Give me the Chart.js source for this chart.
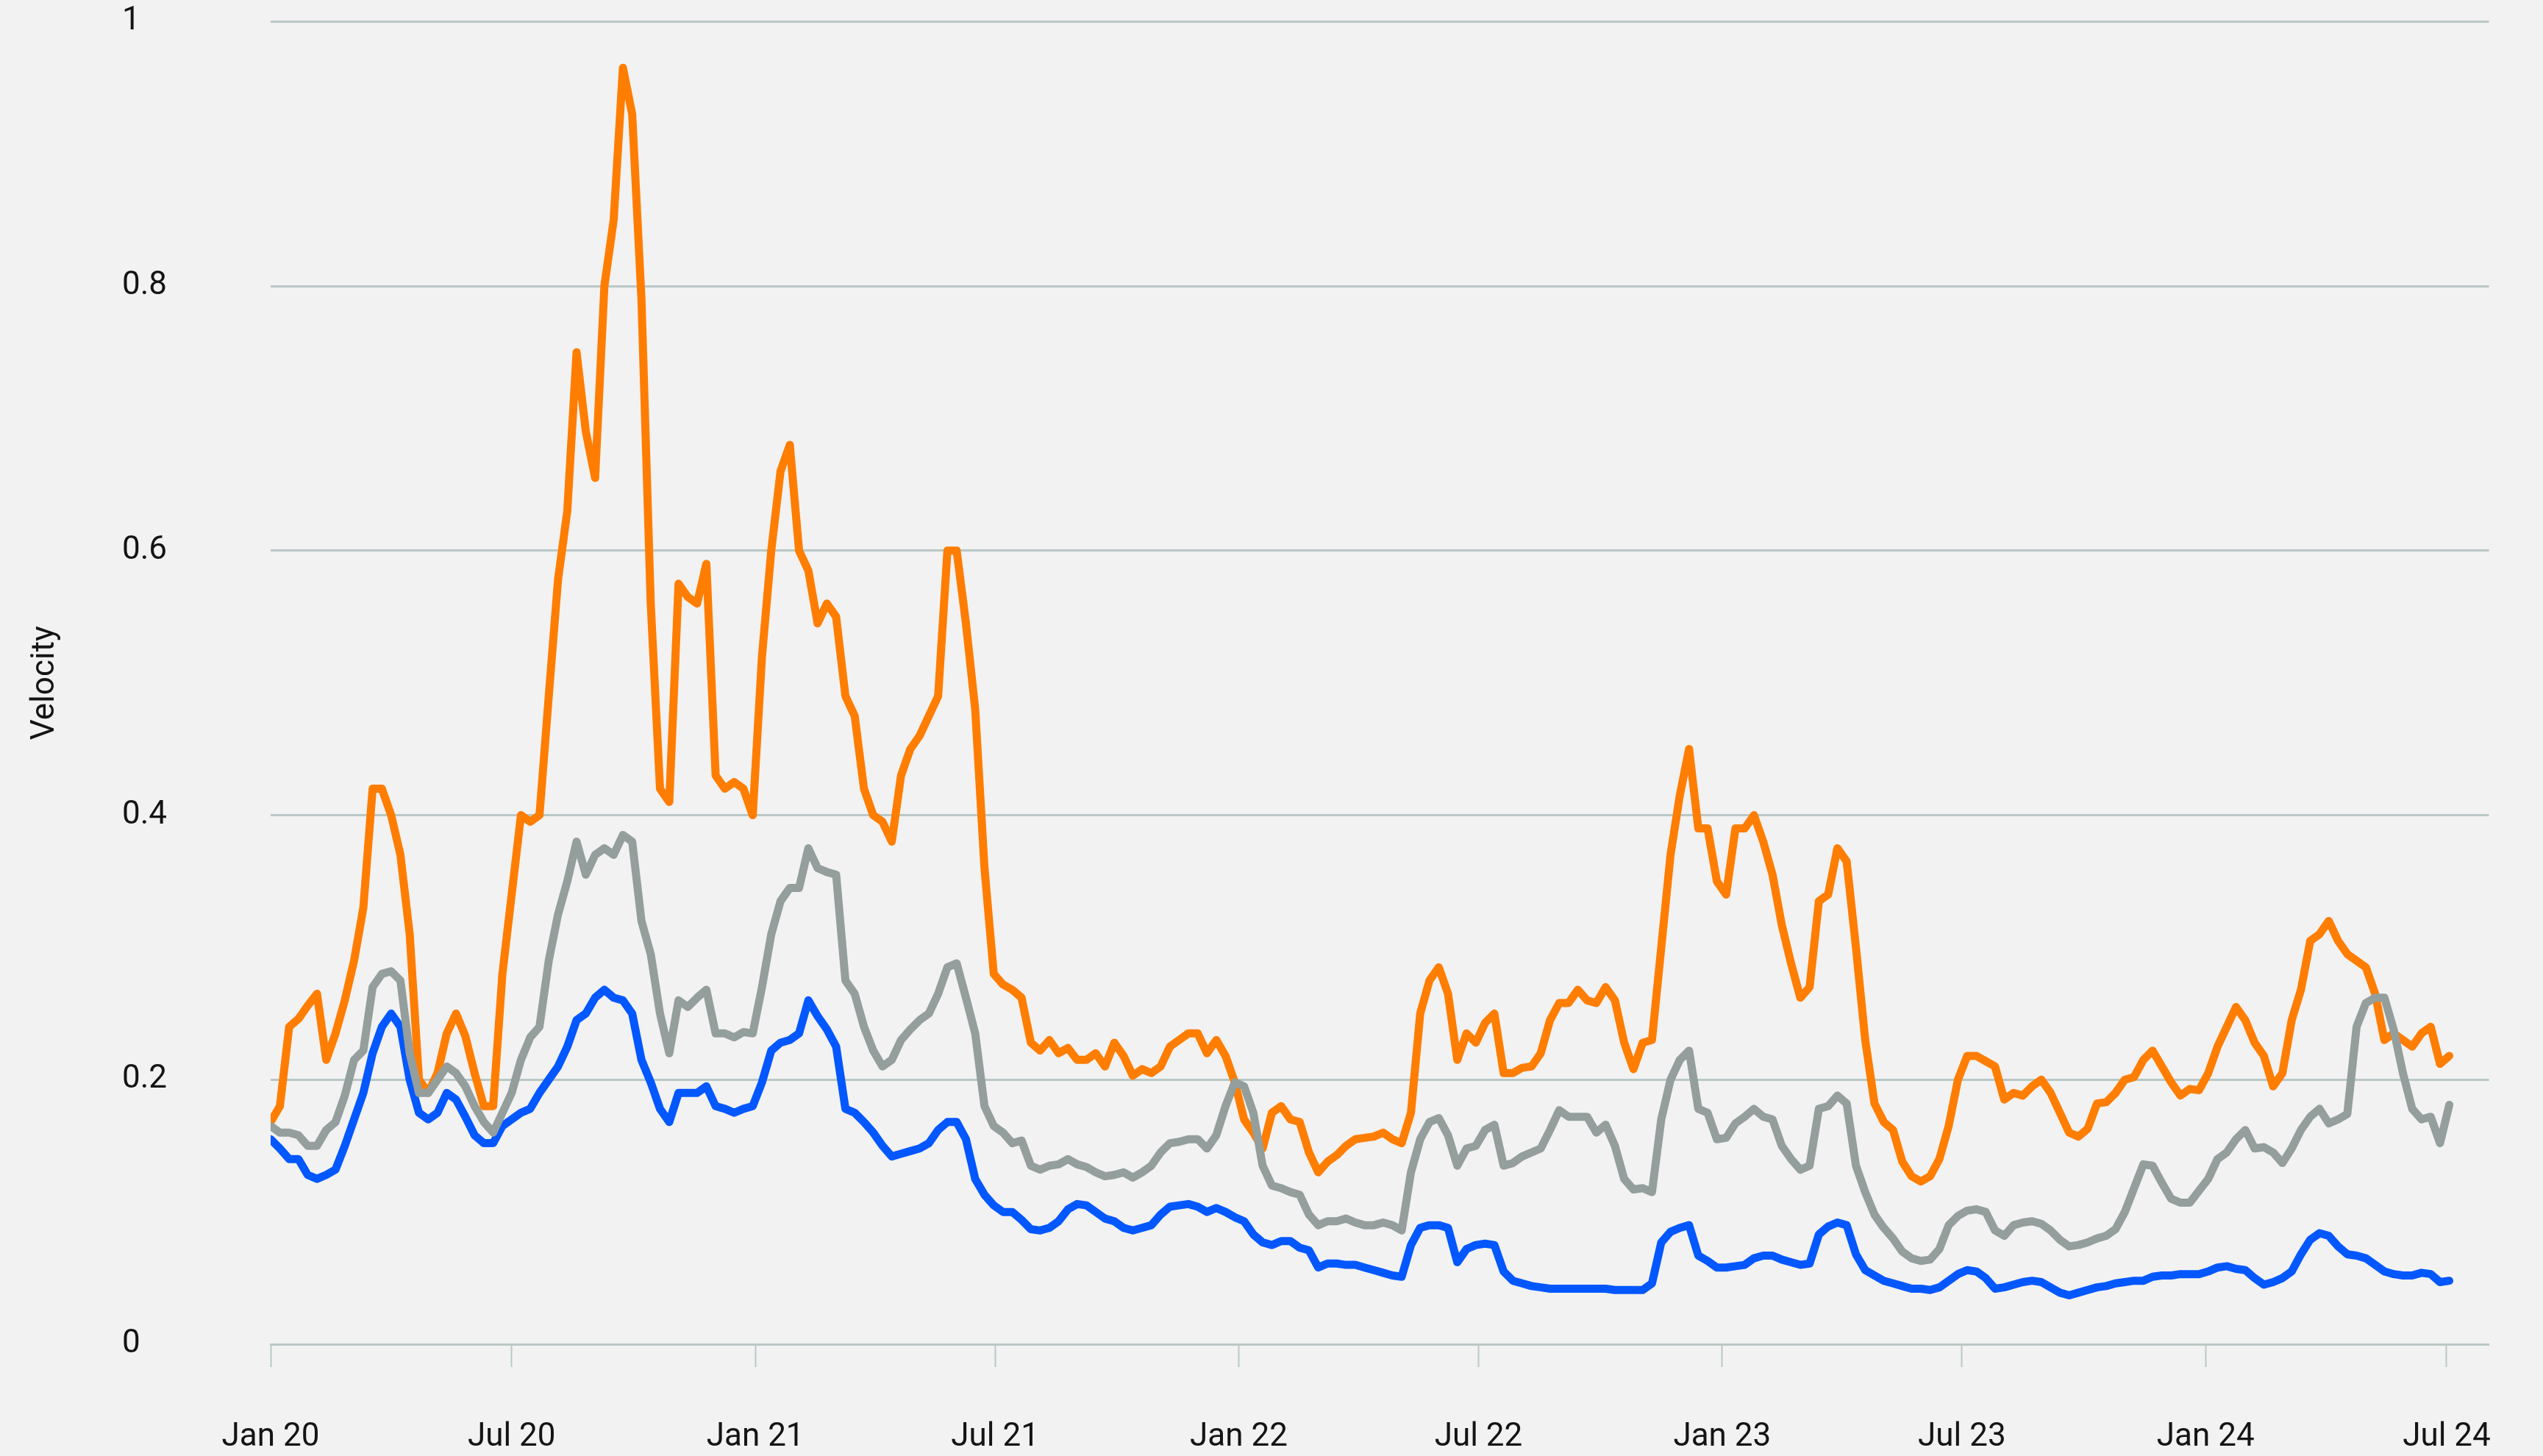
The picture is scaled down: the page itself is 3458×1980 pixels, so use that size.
<!DOCTYPE html>
<html>
<head>
<meta charset="utf-8">
<script src="https://cdn.jsdelivr.net/npm/chart.js@4.4.1/dist/chart.umd.min.js"></script>
<style>
  html, body { margin: 0; padding: 0; background: #f2f2f2; }
  #wrap { width: 3458px; height: 1980px; }
</style>
</head>
<body>
<div id="wrap"><canvas id="velocityChart"></canvas></div>
<script>
// weekly readings, first point is 1 Jan 2020, one value every 7 days
const orangeVals = [
  0.168, 0.18, 0.24, 0.246, 0.256, 0.265, 0.215, 0.235, 0.26, 0.29, 0.33, 0.42, 0.42, 0.40, 0.37, 0.31, 0.2, 0.19, 0.205, 0.235,
  0.25, 0.233, 0.205, 0.18, 0.18, 0.28, 0.34, 0.40, 0.395, 0.40, 0.49, 0.578, 0.63, 0.75, 0.69, 0.655, 0.80, 0.85, 0.965, 0.93, 0.79,
  0.56, 0.42, 0.41, 0.575, 0.565, 0.56, 0.59, 0.43, 0.42, 0.425, 0.42, 0.40, 0.52, 0.6, 0.66, 0.68, 0.6, 0.585, 0.545, 0.56,
  0.55, 0.49, 0.475, 0.42, 0.40, 0.395, 0.38, 0.43, 0.45, 0.46, 0.475, 0.49, 0.6, 0.6, 0.545, 0.48, 0.36, 0.28, 0.272, 0.268,
  0.262, 0.228, 0.222, 0.23, 0.22, 0.224, 0.215, 0.215, 0.22, 0.21, 0.228, 0.218, 0.203, 0.208, 0.205, 0.21, 0.225, 0.23, 0.235, 0.235,
  0.22, 0.23, 0.218, 0.198, 0.17, 0.16, 0.148, 0.175, 0.18, 0.17, 0.168, 0.145, 0.13, 0.138, 0.143, 0.15, 0.155, 0.156, 0.157, 0.16,
  0.155, 0.152, 0.175, 0.25, 0.275, 0.285, 0.265, 0.215, 0.235, 0.228, 0.243, 0.25, 0.205, 0.205, 0.209, 0.21, 0.22, 0.245, 0.258, 0.258,
  0.268, 0.26, 0.258, 0.27, 0.26, 0.228, 0.208, 0.228, 0.23, 0.3, 0.37, 0.415, 0.45, 0.39, 0.39, 0.35, 0.34, 0.39, 0.39, 0.4, 0.38,
  0.355, 0.317, 0.288, 0.262, 0.27, 0.335, 0.34, 0.375, 0.365, 0.3, 0.23, 0.182, 0.168, 0.162, 0.138, 0.127, 0.123, 0.127, 0.14, 0.165,
  0.2, 0.218, 0.218, 0.214, 0.21, 0.185, 0.19, 0.188, 0.195, 0.2, 0.19, 0.175, 0.16, 0.157, 0.163, 0.182, 0.183, 0.19, 0.2, 0.202,
  0.215, 0.222, 0.21, 0.198, 0.188, 0.193, 0.192, 0.205, 0.225, 0.24, 0.255, 0.245, 0.228, 0.218, 0.195, 0.205, 0.245, 0.268, 0.305, 0.31,
  0.32, 0.305, 0.295, 0.29, 0.285, 0.265, 0.23, 0.235, 0.23, 0.225, 0.235, 0.24, 0.212, 0.218
];
const grayVals = [
  0.165, 0.16, 0.16, 0.158, 0.15, 0.15, 0.162, 0.168, 0.188, 0.215, 0.222, 0.27, 0.28, 0.282, 0.275, 0.22, 0.19, 0.19, 0.2, 0.21,
  0.205, 0.195, 0.18, 0.168, 0.16, 0.175, 0.19, 0.215, 0.232, 0.24, 0.29, 0.325, 0.35, 0.38, 0.355, 0.37, 0.375, 0.37, 0.385, 0.38, 0.32,
  0.295, 0.25, 0.22, 0.26, 0.255, 0.262, 0.268, 0.235, 0.235, 0.232, 0.236, 0.235, 0.27, 0.31, 0.335, 0.345, 0.345, 0.375, 0.36, 0.357,
  0.355, 0.275, 0.265, 0.24, 0.222, 0.21, 0.215, 0.23, 0.238, 0.245, 0.25, 0.265, 0.285, 0.288, 0.262, 0.235, 0.18, 0.165, 0.16, 0.152,
  0.154, 0.135, 0.132, 0.135, 0.136, 0.14, 0.136, 0.134, 0.13, 0.127, 0.128, 0.13, 0.126, 0.13, 0.135, 0.145, 0.152, 0.153, 0.155, 0.155,
  0.148, 0.158, 0.18, 0.198, 0.195, 0.175, 0.135, 0.12, 0.118, 0.115, 0.113, 0.098, 0.09, 0.093, 0.093, 0.095, 0.092, 0.09, 0.09, 0.092,
  0.09, 0.086, 0.13, 0.155, 0.168, 0.171, 0.158, 0.135, 0.148, 0.15, 0.162, 0.166, 0.135, 0.137, 0.142, 0.145, 0.148, 0.162, 0.177, 0.172,
  0.172, 0.172, 0.16, 0.166, 0.15, 0.125, 0.117, 0.118, 0.115, 0.17, 0.2, 0.215, 0.222, 0.178, 0.175, 0.155, 0.156, 0.167, 0.172, 0.178, 0.172,
  0.17, 0.15, 0.14, 0.132, 0.135, 0.178, 0.18, 0.188, 0.182, 0.135, 0.115, 0.098, 0.088, 0.08, 0.07, 0.065, 0.063, 0.064, 0.072, 0.09,
  0.097, 0.101, 0.102, 0.1, 0.086, 0.082, 0.09, 0.092, 0.093, 0.091, 0.086, 0.079, 0.074, 0.075, 0.077, 0.08, 0.082, 0.087, 0.1, 0.118,
  0.136, 0.135, 0.122, 0.11, 0.107, 0.107, 0.116, 0.125, 0.14, 0.145, 0.155, 0.162, 0.148, 0.149, 0.145, 0.137, 0.148, 0.162, 0.172, 0.178,
  0.167, 0.17, 0.174, 0.24, 0.258, 0.262, 0.262, 0.238, 0.205, 0.178, 0.17, 0.172, 0.152, 0.181
];
const blueVals = [
  0.155, 0.148, 0.14, 0.14, 0.128, 0.125, 0.128, 0.132, 0.15, 0.17, 0.19, 0.22, 0.24, 0.25, 0.24, 0.2, 0.175, 0.17, 0.175, 0.19,
  0.185, 0.172, 0.158, 0.152, 0.152, 0.165, 0.17, 0.175, 0.178, 0.19, 0.2, 0.21, 0.225, 0.245, 0.25, 0.262, 0.268, 0.262, 0.26, 0.25, 0.215,
  0.198, 0.178, 0.168, 0.19, 0.19, 0.19, 0.195, 0.18, 0.178, 0.175, 0.178, 0.18, 0.198, 0.222, 0.228, 0.23, 0.235, 0.26, 0.248, 0.238,
  0.225, 0.178, 0.175, 0.168, 0.16, 0.15, 0.142, 0.144, 0.146, 0.148, 0.152, 0.162, 0.168, 0.168, 0.155, 0.125, 0.113, 0.105, 0.1, 0.1,
  0.094, 0.087, 0.086, 0.088, 0.093, 0.102, 0.106, 0.105, 0.1, 0.095, 0.093, 0.088, 0.086, 0.088, 0.09, 0.098, 0.104, 0.105, 0.106, 0.104,
  0.1, 0.103, 0.1, 0.096, 0.093, 0.083, 0.077, 0.075, 0.078, 0.078, 0.073, 0.071, 0.058, 0.061, 0.061, 0.06, 0.06, 0.058, 0.056, 0.054,
  0.052, 0.051, 0.075, 0.088, 0.09, 0.09, 0.088, 0.062, 0.072, 0.075, 0.076, 0.075, 0.055, 0.048, 0.046, 0.044, 0.043, 0.042, 0.042, 0.042,
  0.042, 0.042, 0.042, 0.042, 0.041, 0.041, 0.041, 0.041, 0.046, 0.077, 0.085, 0.088, 0.09, 0.067, 0.063, 0.058, 0.058, 0.059, 0.06, 0.065, 0.067,
  0.067, 0.064, 0.062, 0.06, 0.061, 0.083, 0.089, 0.092, 0.09, 0.068, 0.056, 0.052, 0.048, 0.046, 0.044, 0.042, 0.042, 0.041, 0.043, 0.048,
  0.053, 0.056, 0.055, 0.05, 0.042, 0.043, 0.045, 0.047, 0.048, 0.047, 0.043, 0.039, 0.037, 0.039, 0.041, 0.043, 0.044, 0.046, 0.047, 0.048,
  0.048, 0.051, 0.052, 0.052, 0.053, 0.053, 0.053, 0.055, 0.058, 0.059, 0.057, 0.056, 0.05, 0.045, 0.047, 0.05, 0.055, 0.068, 0.079, 0.084,
  0.082, 0.074, 0.068, 0.067, 0.065, 0.06, 0.055, 0.053, 0.052, 0.052, 0.054, 0.053, 0.047, 0.048
];

// x axis: days since 1 Jan 2020
const tickDays = [0, 182, 366, 547, 731, 912, 1096, 1277, 1461, 1643];
const tickLabels = ["Jan 20", "Jul 20", "Jan 21", "Jul 21", "Jan 22", "Jul 22", "Jan 23", "Jul 23", "Jan 24", "Jul 24"];
const weekDays = orangeVals.map((_, i) => i * 7);

const gridColor = "#b9c8c6";
const textColor = "#141414";
const fontFamily = "Roboto, 'Noto Sans', sans-serif";

function toPoints(vals) {
  return vals.map((v, i) => ({ x: weekDays[i], y: v }));
}

function lineSet(label, vals, color) {
  return {
    label: label,
    data: toPoints(vals),
    borderColor: color,
    backgroundColor: color,
    borderWidth: 11,
    pointRadius: 0,
    tension: 0,
    borderJoinStyle: "round",
    borderCapStyle: "round",
  };
}

const ctx = document.getElementById("velocityChart").getContext("2d");
new Chart(ctx, {
  type: "line",
  data: {
    datasets: [
      lineSet("gray", grayVals, "#949e9c"),
      lineSet("blue", blueVals, "#0257ff"),
      lineSet("orange", orangeVals, "#ff7d00"),
    ],
  },
  options: {
    responsive: true,
    maintainAspectRatio: false,
    animation: false,
    devicePixelRatio: 1,
    layout: { padding: { left: 166, top: 28, right: 65, bottom: 0 } },
    plugins: {
      legend: { display: false },
      tooltip: { enabled: false },
    },
    scales: {
      x: {
        type: "linear",
        min: 0,
        max: 1675,
        afterBuildTicks: (scale) => {
          scale.ticks = tickDays.map((v) => ({ value: v }));
        },
        afterFit: (scale) => {
          scale.height = 152;
        },
        ticks: {
          autoSkip: false,
          maxRotation: 0,
          padding: 70,
          color: textColor,
          font: { family: fontFamily, size: 44 },
          callback: (value, index) => tickLabels[index],
        },
        grid: {
          drawOnChartArea: false,
          drawTicks: true,
          tickLength: 31,
          tickWidth: 2,
          tickColor: gridColor,
          color: gridColor,
        },
        border: { display: true, color: gridColor, width: 3 },
      },
      y: {
        min: 0,
        max: 1,
        afterFit: (scale) => {
          scale.width = 202;
        },
        ticks: {
          stepSize: 0.2,
          crossAlign: "far",
          color: textColor,
          font: { family: fontFamily, size: 44 },
          callback: (value) => String(Number(value.toFixed(2))),
        },
        grid: {
          color: gridColor,
          lineWidth: 3,
          drawTicks: false,
        },
        border: { display: false },
        title: {
          display: true,
          text: "Velocity",
          color: textColor,
          font: { family: fontFamily, size: 44 },
          padding: { top: -130, bottom: 0 },
        },
      },
    },
  },
});
</script>
</body>
</html>
